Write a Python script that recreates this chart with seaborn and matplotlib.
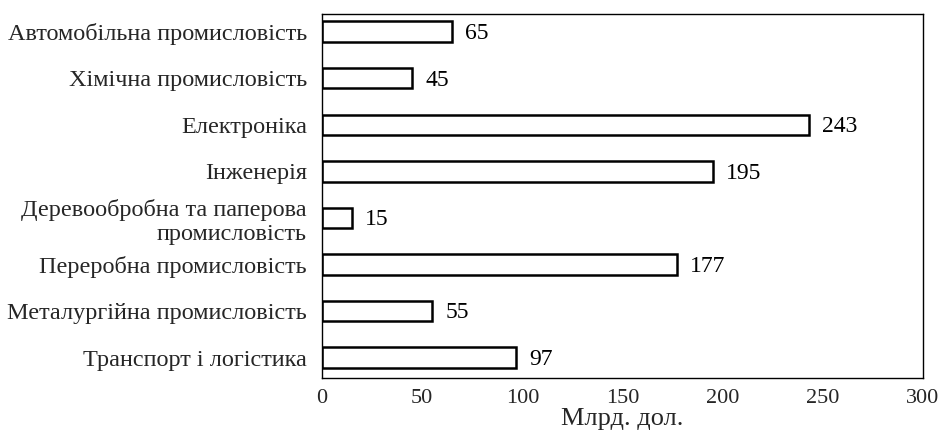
import pandas as pd
import seaborn as sns
import matplotlib.pyplot as plt

categories = [
    "Автомобільна промисловість",
    "Хімічна промисловість",
    "Електроніка",
    "Інженерія",
    "Деревообробна та паперова\nпромисловість",
    "Переробна промисловість",
    "Металургійна промисловість",
    "Транспорт і логістика",
]
values = [65, 45, 243, 195, 15, 177, 55, 97]
x_ticks = [0, 50, 100, 150, 200, 250, 300]

df = pd.DataFrame({"sector": categories, "value": values})

sns.set_theme(style="white")
plt.rcParams["font.family"] = ["Liberation Serif", "DejaVu Serif"]

fig = plt.figure(figsize=(9.39, 4.36), dpi=100)
ax = fig.add_axes([0.343, 0.133, 0.640, 0.835])

sns.barplot(
    data=df, x="value", y="sector", order=categories,
    color="white", edgecolor="black", linewidth=1.8, width=0.44, ax=ax,
)

# value labels to the right of each bar
for i, v in enumerate(values):
    ax.text(v + 6.5, i + 0.04, str(v), va="center", ha="left", fontsize=17, color="black")

ax.set_xlim(0, 300)
ax.set_ylim(7.44, -0.38)
ax.set_xticks(x_ticks)
ax.set_xticklabels([str(t) for t in x_ticks], fontsize=16)
ax.tick_params(axis="y", labelsize=17.5, length=0, pad=11)
ax.tick_params(axis="x", direction="in", length=6, width=1, color="black", pad=8)
for lab in ax.get_yticklabels():
    lab.set_multialignment("right")
    lab.set_linespacing(1.2)
ax.set_xlabel("Млрд. дол.", fontsize=19, labelpad=0)
ax.set_ylabel("")
for s in ax.spines.values():
    s.set_color("black")
    s.set_linewidth(1)

plt.savefig("out.png", dpi=100)
